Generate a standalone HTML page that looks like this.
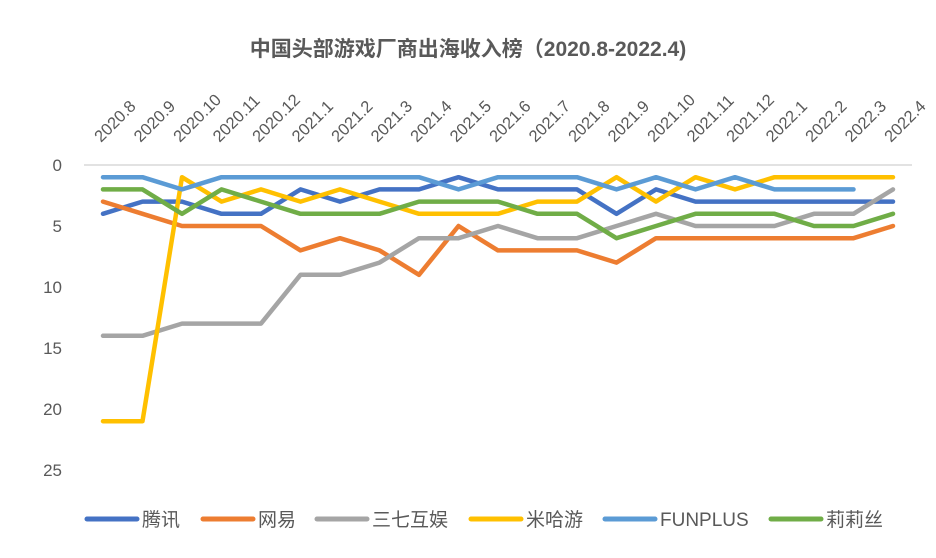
<!DOCTYPE html>
<html><head><meta charset="utf-8"><style>
body{margin:0;background:#fff}
svg{display:block;font-family:"Liberation Sans","Noto Sans CJK SC",sans-serif}
</style></head><body>
<svg id="chart" width="936" height="558">
<text x="468" y="56" text-anchor="middle" font-size="21" font-weight="bold" fill="#595959">中国头部游戏厂商出海收入榜（2020.8-2022.4)</text>
<g id="grid"></g><g id="yaxis"></g><g id="xaxis"></g><g id="lines"></g><g id="legend"></g>
</svg>
<script>
const categories=["2020.8","2020.9","2020.10","2020.11","2020.12","2021.1","2021.2","2021.3","2021.4","2021.5","2021.6","2021.7","2021.8","2021.9","2021.10","2021.11","2021.12","2022.1","2022.2","2022.3","2022.4"];
const yTicks=[0,5,10,15,20,25];
const seriesNames=["腾讯","网易","三七互娱","米哈游","FUNPLUS","莉莉丝"];
const seriesColors=["#4472c4","#ed7d31","#a5a5a5","#ffc000","#5b9bd5","#70ad47"];
const tencent=[4,3,3,4,4,2,3,2,2,1,2,2,2,4,2,3,3,3,3,3,3];
const netease=[3,4,5,5,5,7,6,7,9,5,7,7,7,8,6,6,6,6,6,6,5];
const sanqi=[14,14,13,13,13,9,9,8,6,6,5,6,6,5,4,5,5,5,4,4,2];
const mihoyo=[21,21,1,3,2,3,2,3,4,4,4,3,3,1,3,1,2,1,1,1,1];
const funplus=[1,1,2,1,1,1,1,1,1,2,1,1,1,2,1,2,1,2,2,2,null];
const lilith=[2,2,4,2,3,4,4,4,3,3,3,4,4,6,5,4,4,4,5,5,4];
const seriesData=[tencent,netease,sanqi,mihoyo,funplus,lilith];
const NS="http://www.w3.org/2000/svg";
const x=i=>103+i*39.5, y=v=>165+v*12.2;
function mk(tag,attrs,parent){const e=document.createElementNS(NS,tag);for(const k in attrs)e.setAttribute(k,attrs[k]);parent.appendChild(e);return e;}
const g=id=>document.getElementById(id);
const ax=mk("line",{x1:84,x2:912,y1:y(0),y2:y(0),stroke:"#d9d9d9","stroke-width":1.5},g("grid"));


yTicks.forEach(t=>{const e=mk("text",{x:62,y:y(t)+6,"text-anchor":"end","font-size":17,fill:"#595959"},g("yaxis"));e.textContent=t;

});
categories.forEach((c,i)=>{const e=mk("text",{x:x(i)-2,y:143,"font-size":16.5,fill:"#595959",transform:`rotate(-45 ${x(i)-2} 143)`},g("xaxis"));e.textContent=c;

});
seriesData.forEach((d,s)=>{let p="";d.forEach((v,i)=>{if(v!=null)p+=(p?"L":"M")+x(i)+" "+y(v);});
const e=mk("path",{d:p,fill:"none",stroke:seriesColors[s],"stroke-width":4.5,"stroke-linejoin":"round","stroke-linecap":"round"},g("lines"));

});
const lx=[87,203,317,471,605,771];
seriesNames.forEach((n,s)=>{const ln=mk("line",{x1:lx[s],x2:lx[s]+50,y1:519,y2:519,stroke:seriesColors[s],"stroke-width":5,"stroke-linecap":"round"},g("legend"));


const t=mk("text",{x:lx[s]+55,y:526,"font-size":19,fill:"#595959"},g("legend"));t.textContent=n;

});
</script>
</body></html>
